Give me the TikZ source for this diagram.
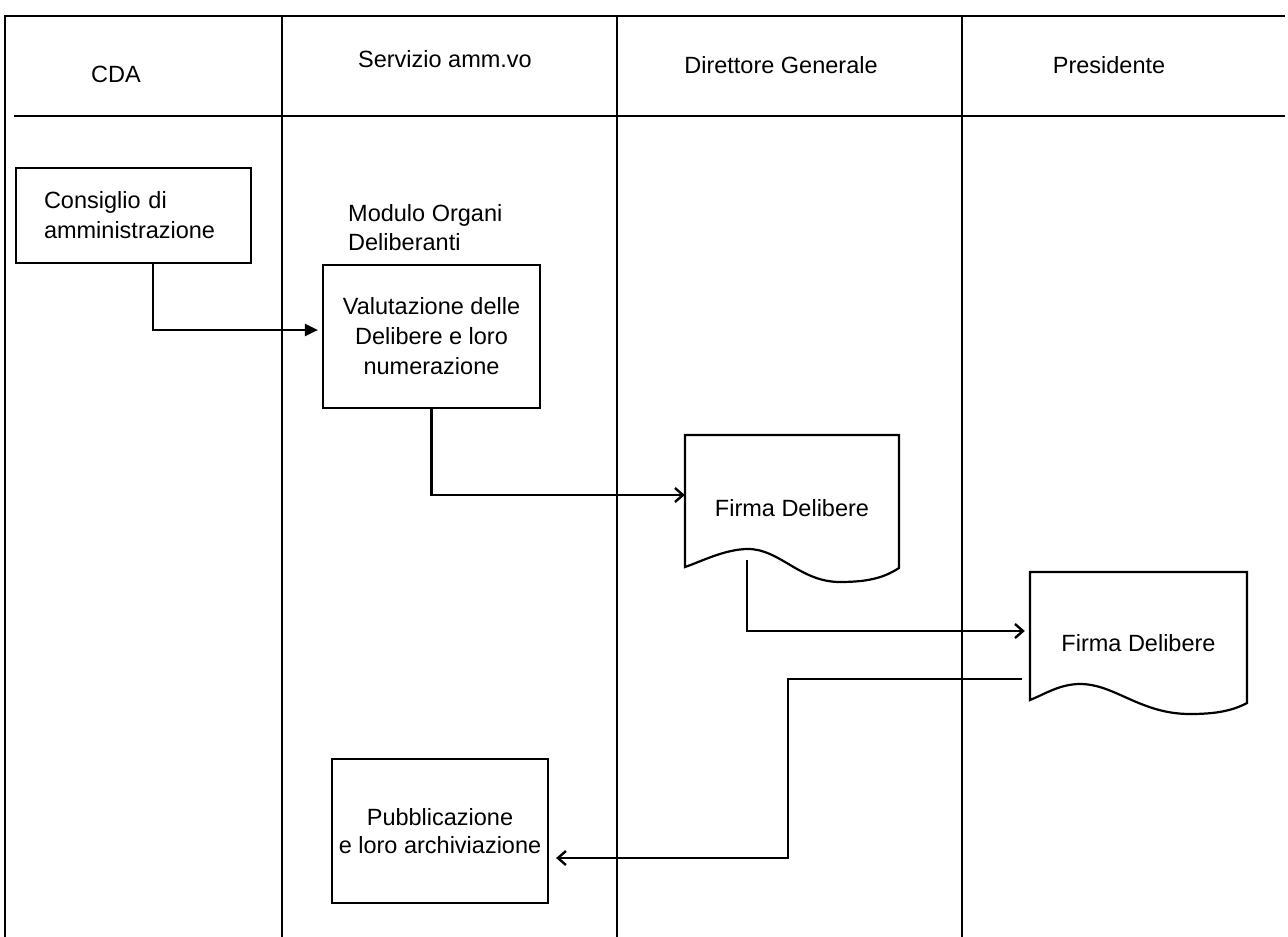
\documentclass[tikz,border=0pt]{standalone}
\usepackage{fontspec}
\setmainfont{Liberation Sans}
\usetikzlibrary{arrows.meta}
\begin{document}
\begin{tikzpicture}[x=1pt,y=-1pt,
  ln/.style={line width=2.2pt},
  boxnode/.style={draw,line width=2.2pt,inner sep=0pt,align=center,
     font=\fontsize{23.5}{30}\selectfont},
  docnode/.style={inner sep=0pt,align=center,font=\fontsize{23.5}{30}\selectfont},
  hdr/.style={anchor=base,inner sep=0pt,font=\fontsize{23.5}{30}\selectfont},
  lbl/.style={inner sep=0pt,align=left,font=\fontsize{23.5}{29}\selectfont},
  conn/.style={line width=2.2pt},
  opentip/.style={-{Straight Barb[length=8pt,width=14pt,line width=2.4pt]}},
  filltip/.style={-{Triangle[length=13pt,width=12pt]}}
]
\useasboundingbox (0,0) rectangle (1288,937);
% frame
\coordinate (tl) at (5,16);
\coordinate (tr) at (1285,16);
\coordinate (bl) at (5,937);
\coordinate (hl) at (14,116);
\coordinate (hr) at (1285,116);
\draw[ln] (bl) -- (tl) -- (tr);
\draw[ln] (hl) -- (hr);
\foreach \xx/\nm in {282/v1,617/v2,962/v3}{
  \coordinate (\nm t) at (\xx,16);
  \coordinate (\nm b) at (\xx,937);
  \draw[ln] (\nm t) -- (\nm b);
}
% headers
\node[hdr] (h1) at (116,82) {CDA};
\node[hdr] (h2) at (445,67) {Servizio amm.vo};
\node[hdr] (h3) at (781,73) {Direttore Generale};
\node[hdr] (h4) at (1109,73) {Presidente};
% boxes
\node[boxnode,minimum width=235pt,minimum height=95pt,text width=179pt,align=left]
  (b1) at (133.5,215.5) {Consiglio di\\amministrazione};
\node[lbl,anchor=west] (m1) at (348,228) {Modulo Organi\\Deliberanti};
\node[boxnode,minimum width=217pt,minimum height=143pt]
  (b2) at (431.5,336.5) {Valutazione delle\\Delibere e loro\\numerazione};
\node[boxnode,minimum width=216pt,minimum height=144pt,
  font=\fontsize{23.5}{28}\selectfont]
  (b3) at (440,831) {Pubblicazione\\e loro archiviazione};
% documents
\node[docnode,minimum width=214pt,minimum height=147pt] (d1) at (792,508.5) {Firma Delibere};
\node[docnode,minimum width=217pt,minimum height=142pt] (d2) at (1138.5,643) {Firma Delibere};
\draw[ln] (685,435) -- (899,435) -- (899,568)
  .. controls (885,577) and (870,582) .. (840,582)
  .. controls (800,582) and (780,549) .. (748,549)
  .. controls (725,549) and (700,562) .. (685,567) -- cycle;
\draw[ln] (1030,572) -- (1247,572) -- (1247,703)
  .. controls (1232,711) and (1215,714) .. (1190,714)
  .. controls (1140,714) and (1115,684) .. (1080,684)
  .. controls (1060,684) and (1045,694) .. (1030,700) -- cycle;
% connectors
\draw[conn,filltip] ([xshift=19.5pt]b1.south) |- ([yshift=6.5pt,xshift=-4pt]b2.west);
\draw[conn,opentip] (b2.south) |- ([yshift=13.5pt]d1.west);
\draw[conn,opentip] ([xshift=-45pt,yshift=22pt]d1.south) |- ([xshift=-5pt,yshift=12pt]d2.west);
\draw[conn,opentip] ([xshift=-8pt,yshift=-36pt]d2.west) -- ++(-234,0)
  |- ([xshift=7pt,yshift=-27pt]b3.east);
\end{tikzpicture}
\end{document}
